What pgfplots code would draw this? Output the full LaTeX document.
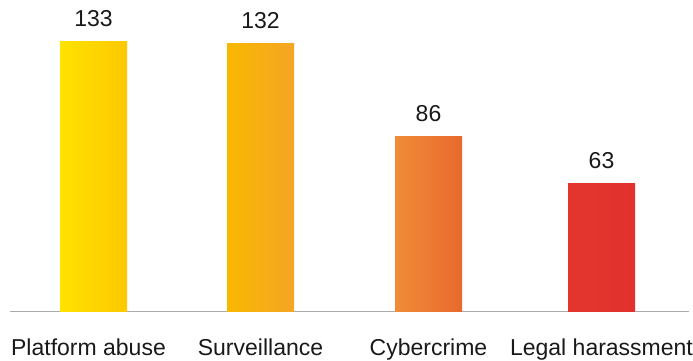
\documentclass[border=0pt]{standalone}
\usepackage{pgfplots}
\pgfplotsset{compat=1.18}
\usepackage{fontspec}
\setmainfont{Liberation Sans}
\definecolor{b1l}{HTML}{FFE200}
\definecolor{b1r}{HTML}{FDC800}
\definecolor{b2l}{HTML}{F9B800}
\definecolor{b2r}{HTML}{F4A526}
\definecolor{b3l}{HTML}{F08C38}
\definecolor{b3r}{HTML}{E8692E}
\definecolor{b4l}{HTML}{E3352E}
\definecolor{b4r}{HTML}{E2312D}
\definecolor{axgray}{HTML}{ABABAB}
\begin{document}
\begin{tikzpicture}[x=1pt,y=1pt]
\useasboundingbox (0,0) rectangle (693,360);
\begin{axis}[
  at={(10pt,49pt)}, anchor=south west,
  scale only axis, width=679pt, height=311pt,
  xmin=10, xmax=689, ymin=0, ymax=153.6,
  axis x line*=bottom, axis y line=none,
  x axis line style={draw=axgray, line width=1pt, -},
  xtick={93.5,260.5,428.5,601.5},
  xticklabels={{Platform abuse\kern10pt},Surveillance,Cybercrime,Legal harassment},
  major tick length=0pt,
  /pgf/number format/assume math mode=true,
  xticklabel style={anchor=base, yshift=-44pt, font=\fontsize{23}{27}\selectfont, text=black!90},
  ybar, bar width=67pt, bar shift=0pt,
  nodes near coords,
  every node near coord/.append style={anchor=south, inner sep=0pt, yshift=15pt, font=\fontsize{23}{27}\selectfont, text=black!90},
  clip=false,
]
\addplot[draw=none, left color=b1l, right color=b1r] coordinates {(93.5,133)};
\addplot[draw=none, left color=b2l, right color=b2r] coordinates {(260.5,132)};
\addplot[draw=none, left color=b3l, right color=b3r] coordinates {(428.5,86)};
\addplot[draw=none, left color=b4l, right color=b4r] coordinates {(601.5,63)};
\end{axis}
\end{tikzpicture}
\end{document}
